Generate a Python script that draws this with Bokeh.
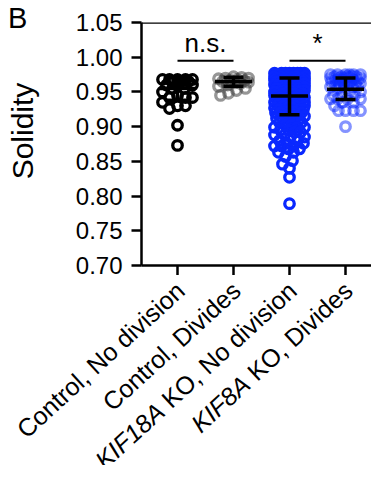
import math
from bokeh.plotting import figure
from bokeh.layouts import row, column
from bokeh.models import Range1d, FixedTicker, Span, Label, NumeralTickFormatter, Div
from bokeh.embed import file_html
from bokeh.resources import INLINE

# ---------------- data ----------------
categories = ["Control, No division", "Control, Divides", "KIF18A KO, No division", "KIF8A KO, Divides"]
label_italic = ["", "", "KIF18A", "KIF8A"]
label_plain = ["Control, No division", "Control, Divides", "KO, No division", "KO, Divides"]

ctrl_nodiv = [0.968, 0.968, 0.968, 0.968, 0.968, 0.965, 0.965, 0.965, 0.960, 0.960, 0.960,
              0.955, 0.955, 0.950, 0.945, 0.942, 0.942, 0.942, 0.935, 0.930, 0.930, 0.926,
              0.902, 0.873]
ctrl_div = [0.972, 0.971, 0.970, 0.970, 0.969, 0.968, 0.967, 0.966, 0.965, 0.964, 0.963,
            0.962, 0.960, 0.958, 0.955, 0.952, 0.948, 0.945]
kif18a_nodiv = ([0.977] * 8 + [0.975] * 8 + [0.972] * 8 + [0.970] * 7 + [0.967] * 7 + [0.965] * 7
                + [0.962] * 6 + [0.960] * 6 + [0.957] * 5 + [0.955] * 5 + [0.952] * 5 + [0.950] * 5
                + [0.947] * 4 + [0.945] * 4 + [0.942] * 4 + [0.940] * 4 + [0.937] * 3 + [0.935] * 3
                + [0.932] * 3 + [0.930] * 3 + [0.927] * 3 + [0.925] * 3 + [0.922] * 3 + [0.920] * 3
                + [0.917] * 2 + [0.915] * 2 + [0.912] * 2 + [0.910] * 2 + [0.906] * 2 + [0.902] * 2
                + [0.899] * 3 + [0.895] * 2 + [0.892] * 2 + [0.888] * 2 + [0.885] * 2 + [0.880] * 2
                + [0.876] * 2 + [0.872] * 3 + [0.868] * 2 + [0.863] * 2
                + [0.857, 0.851, 0.846, 0.840, 0.827, 0.789])
kif8a_div = ([0.975] * 6 + [0.972] * 5 + [0.970] * 5 + [0.967] * 4 + [0.965] * 4 + [0.962] * 3
             + [0.960] * 3 + [0.957] * 3 + [0.955] * 2 + [0.950] * 2 + [0.945] * 3 + [0.940] * 4
             + [0.935] * 2 + [0.930] + [0.923] * 4 + [0.900])
groups = [ctrl_nodiv, ctrl_div, kif18a_nodiv, kif8a_div]

means = [0.955, 0.965, 0.944, 0.954]
sd_low = [0.938, 0.958, 0.917, 0.939]
sd_high = [0.971, 0.971, 0.970, 0.970]

sig_from = [1, 3]
sig_to = [2, 4]
sig_y = [0.995, 0.995]
sig_text = ["n.s.", "*"]

y_ticks = [0.70, 0.75, 0.80, 0.85, 0.90, 0.95, 1.00, 1.05]
y_title = "Solidity"
panel_letter = "B"

# ---------------- styles ----------------
colors = ["black", "#404040", "#0a28ff", "#0a28ff"]
alphas = [1.0, 0.55, 1.0, 0.5]
FONT = "Liberation Sans"

# ---------------- layout ----------------
TOTAL_W = 371
LEFT_W = 68                      # html strip with panel letter and y title
MAIN_W, MAIN_H = TOTAL_W - LEFT_W, 275
BORDER_L, BORDER_T, BORDER_B = 73, 22, 10
LAB_H = 190
FRAME_W = MAIN_W - BORDER_L
FRAME_H = MAIN_H - BORDER_T - BORDER_B
CAT_PX = 56.0                    # pixel spacing between categories
X0 = 1 - 36 / CAT_PX
X1 = X0 + FRAME_W / CAT_PX
Y0, Y1 = 0.70, 1.05
px_x = CAT_PX
px_y = FRAME_H / (Y1 - Y0)


def swarm(vals, min_d=8.0, max_off=15):
    order = sorted(range(len(vals)), key=lambda i: -vals[i])
    cands = [0]
    for k in range(1, max_off + 1):
        cands += [k, -k]
    placed = []
    offs = [0.0] * len(vals)
    for i in order:
        y = vals[i] * px_y
        best, best_score = 0, -1.0
        for c in cands:
            md = min((math.hypot(c - px, y - py) for px, py in placed if abs(y - py) < min_d),
                     default=1e9)
            if md >= min_d:
                best = c
                break
            if md > best_score:
                best_score, best = md, c
        offs[i] = best
        placed.append((best, y))
    return [o / px_x for o in offs]


p = figure(width=MAIN_W, height=MAIN_H, x_range=Range1d(X0, X1), y_range=Range1d(Y0, Y1),
           output_backend="svg", toolbar_location=None,
           min_border_left=BORDER_L, min_border_right=0, min_border_top=BORDER_T,
           min_border_bottom=BORDER_B)
p.grid.visible = False
p.outline_line_color = None
p.background_fill_color = "white"
p.border_fill_color = "white"

for ax in (p.xaxis[0], p.yaxis[0]):
    ax.axis_line_width = 2.5
    ax.axis_line_color = "black"
    ax.major_tick_line_width = 2.5
    ax.major_tick_line_color = "black"
    ax.major_tick_out = 10
    ax.major_tick_in = 0
    ax.minor_tick_line_color = None

p.yaxis.ticker = FixedTicker(ticks=y_ticks)
p.yaxis.formatter = NumeralTickFormatter(format="0.00")
p.yaxis.major_label_text_font = FONT
p.yaxis.major_label_text_font_size = "24px"
p.yaxis.major_label_text_color = "black"
p.yaxis.major_label_standoff = 9

cat_x = [i + 1 for i in range(len(categories))]
p.xaxis.ticker = FixedTicker(ticks=cat_x)
p.xaxis.major_label_overrides = {x: "" for x in cat_x}
p.xaxis.major_label_text_font_size = "0px"
p.xaxis.major_label_standoff = 0

p.add_layout(Span(location=Y1, dimension="width", line_color="black", line_width=2.5))

# points
for gi, vals in enumerate(groups):
    offs = swarm(vals)
    xs = [cat_x[gi] + o for o in offs]
    p.scatter(xs, vals, marker="circle", size=9.5, fill_alpha=0, line_color=colors[gi],
              line_alpha=alphas[gi], line_width=3.3)

# mean and SD
half_mean = 18.5 / px_x
half_cap = 10.0 / px_x
p.segment(x0=[x - half_mean for x in cat_x], x1=[x + half_mean for x in cat_x],
          y0=means, y1=means, line_color="black", line_width=3.5)
p.segment(x0=[x - half_cap for x in cat_x], x1=[x + half_cap for x in cat_x],
          y0=sd_low, y1=sd_low, line_color="black", line_width=3.5)
p.segment(x0=[x - half_cap for x in cat_x], x1=[x + half_cap for x in cat_x],
          y0=sd_high, y1=sd_high, line_color="black", line_width=3.5)
p.segment(x0=cat_x, x1=cat_x, y0=sd_low, y1=sd_high, line_color="black", line_width=3.5)

# significance
p.segment(x0=sig_from, x1=sig_to, y0=sig_y, y1=sig_y, line_color="black", line_width=2)
for a, b, yv, t in zip(sig_from, sig_to, sig_y, sig_text):
    p.add_layout(Label(x=(a + b) / 2, y=yv, text=t, text_align="center",
                       text_baseline="bottom", y_offset=3, text_font=FONT,
                       text_font_size="26px", text_color="black"))

# left html strip: panel letter + rotated y title
left_html = (
    f'<div style="position:relative;width:{LEFT_W}px;height:{MAIN_H}px;'
    f'font-family:\'{FONT}\',Arial,sans-serif;color:black;">'
    f'<span style="position:absolute;left:8px;top:4px;font-size:29px;line-height:1;">'
    f'{panel_letter}</span>'
    f'<span style="position:absolute;left:23px;top:131px;font-size:30px;line-height:1;'
    f'white-space:nowrap;transform:translate(-50%,-50%) rotate(-90deg);">{y_title}</span>'
    f'</div>'
)
left = Div(text=left_html, width=LEFT_W, height=MAIN_H, margin=(0, 0, 0, 0))

# bottom strip: rotated category labels sharing the x scale of the main plot
lab_x0 = X0 - (LEFT_W + BORDER_L) / px_x
lab = figure(width=TOTAL_W, height=LAB_H, x_range=Range1d(lab_x0, X1), y_range=Range1d(-LAB_H, 0),
             output_backend="svg", toolbar_location=None, x_axis_location=None,
             y_axis_location=None, min_border=0)
lab.grid.visible = False
lab.outline_line_color = None

ARIAL = {" ": .278, "K": .667, "O": .778, ",": .278, "N": .722, "o": .556, "d": .556,
         "i": .222, "v": .5, "s": .5, "n": .556, "D": .722, "e": .556}
fs = 25
ang = math.radians(42.5)
anchor_y = -11
ax_off = 3
for x, itx, pl in zip(cat_x, label_italic, label_plain):
    lab.add_layout(Label(x=x, y=anchor_y, text=pl, angle=ang, text_align="right",
                         text_baseline="middle", x_offset=ax_off,
                         text_font=FONT, text_font_size=f"{fs}px", text_color="black"))
    if itx:
        w = (sum(ARIAL.get(c, .556) for c in pl) + ARIAL[" "]) * fs
        lab.add_layout(Label(x=x, y=anchor_y, text=itx, angle=ang, text_align="right",
                             text_baseline="middle",
                             x_offset=ax_off - w * math.cos(ang),
                             y_offset=-w * math.sin(ang),
                             text_font=FONT, text_font_style="italic",
                             text_font_size=f"{fs}px", text_color="black"))

layout = column(row(left, p, spacing=0), lab, spacing=0)
open("out.html", "w").write(file_html(layout, INLINE))
